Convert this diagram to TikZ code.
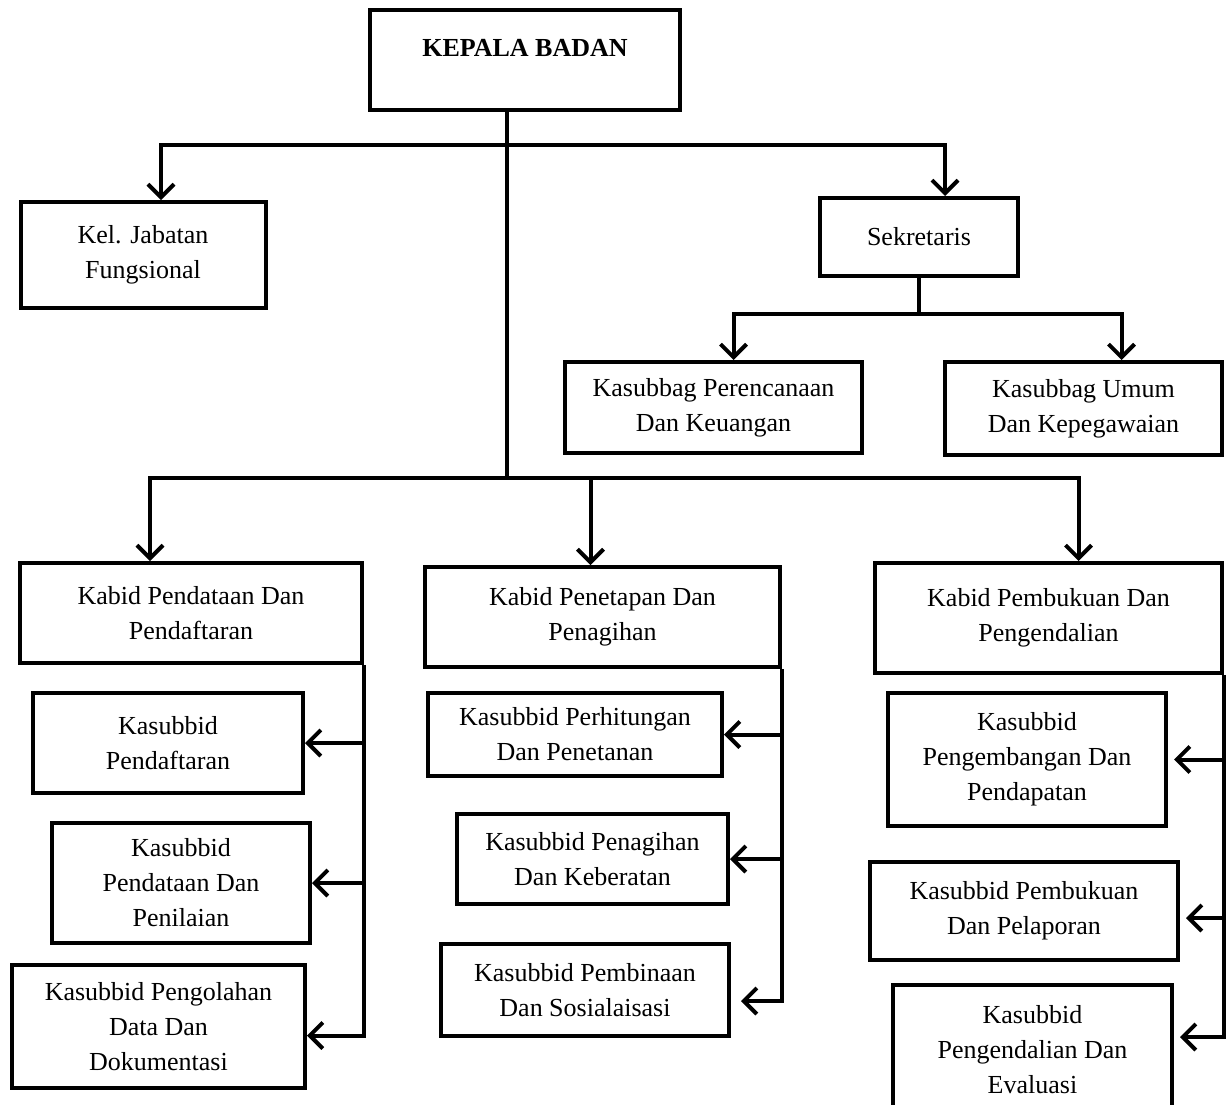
\documentclass[tikz,border=0pt]{standalone}
\usepackage{fontspec}
\setmainfont{Liberation Serif}
\usetikzlibrary{arrows.meta,calc}
\begin{document}
\begin{tikzpicture}[x=1pt,y=-1pt,
  box/.style={draw=black, line width=4pt, align=center, inner sep=0pt,
    font=\fontsize{26}{35}\selectfont},
  link/.style={draw=black, line width=4pt},
  arr/.style={link, -{Straight Barb[length=13pt,width=26pt]}},
]
\useasboundingbox (0,0) rectangle (1231,1104);
\clip (0,0) rectangle (1231,1104);

% nodes
\node[box, minimum width=310pt, minimum height=100pt, text depth=24pt] (head) at (525,60) {\textbf{KEPALA BADAN}};
\node[box, minimum width=245pt, minimum height=106pt] (kel) at (143,255) {Kel. Jabatan\\Fungsional};
\node[box, minimum width=198pt, minimum height=78pt] (sek) at (919,237) {Sekretaris};
\node[box, minimum width=297pt, minimum height=91pt] (pk) at (713.5,407.5) {Kasubbag Perencanaan\\Dan Keuangan};
\node[box, minimum width=277pt, minimum height=93pt] (pu) at (1083.5,408.5) {Kasubbag Umum\\Dan Kepegawaian};

\node[box, minimum width=342pt, minimum height=100pt] (kb1) at (191,613) {Kabid Pendataan Dan\\Pendaftaran};
\node[box, minimum width=270pt, minimum height=100pt] (s11) at (168,743) {Kasubbid\\Pendaftaran};
\node[box, minimum width=258pt, minimum height=120pt] (s12) at (181,883) {Kasubbid\\Pendataan Dan\\Penilaian};
\node[box, minimum width=293pt, minimum height=123pt] (s13) at (158.5,1026.5) {Kasubbid Pengolahan\\Data Dan\\Dokumentasi};

\node[box, minimum width=355pt, minimum height=100pt] (kb2) at (602.5,617) {Kabid Penetapan Dan\\Penagihan};
\node[box, minimum width=294pt, minimum height=83pt] (s21) at (575,734.5) {Kasubbid Perhitungan\\Dan Penetanan};
\node[box, minimum width=271pt, minimum height=90pt] (s22) at (592.5,859) {Kasubbid Penagihan\\Dan Keberatan};
\node[box, minimum width=288pt, minimum height=92pt] (s23) at (585,990) {Kasubbid Pembinaan\\Dan Sosialaisasi};

\node[box, minimum width=347pt, minimum height=110pt] (kb3) at (1048.5,618) {Kabid Pembukuan Dan\\Pengendalian};
\node[box, minimum width=278pt, minimum height=133pt] (s31) at (1027,759.5) {Kasubbid\\Pengembangan Dan\\Pendapatan};
\node[box, minimum width=308pt, minimum height=98pt] (s32) at (1024,911) {Kasubbid Pembukuan\\Dan Pelaporan};
\node[box, minimum width=279pt, minimum height=130pt] (s33) at (1032.5,1050) {Kasubbid\\Pengendalian Dan\\Evaluasi};

% junctions and arrow targets
\coordinate (jT) at (507,145);
\coordinate (jB) at (507,478);
\coordinate (jS) at (919,314);
\coordinate (e13) at ([yshift=-9pt]s13.east);
\coordinate (e23) at ([yshift=-11pt]s23.east);
\coordinate (e32) at ([yshift=-7pt]s32.east);
\coordinate (e33) at ([yshift=13pt]s33.east);

% connectors
\draw[link] (head.south -| jB) -- (jB);
\draw[arr] (jT) -| ([xshift=18pt]kel.north);
\draw[arr] (jT) -| ([xshift=26pt]sek.north);
\draw[link] (sek.south) -- (jS);
\draw[arr] (jS) -| ([xshift=20pt]pk.north);
\draw[arr] (jS) -| ([xshift=38pt]pu.north);
\draw[arr] (jB) -| ([xshift=-41pt]kb1.north);
\draw[arr] (jB) -| ([xshift=-12pt]kb2.north);
\draw[arr] (jB) -| ([xshift=30pt]kb3.north);

\draw[arr] (kb1.south east) |- (e13);
\draw[arr] (kb1.south east |- s11.east) -- (s11.east);
\draw[arr] (kb1.south east |- s12.east) -- (s12.east);

\draw[arr, shorten >=10pt] (kb2.south east) |- (e23);
\draw[arr] (kb2.south east |- s21.east) -- (s21.east);
\draw[arr] (kb2.south east |- s22.east) -- (s22.east);

\draw[arr, shorten >=6pt] (kb3.south east) |- (e33);
\draw[arr, shorten >=6pt] (kb3.south east |- s31.east) -- (s31.east);
\draw[arr, shorten >=6pt] (kb3.south east |- e32) -- (e32);
\end{tikzpicture}
\end{document}
